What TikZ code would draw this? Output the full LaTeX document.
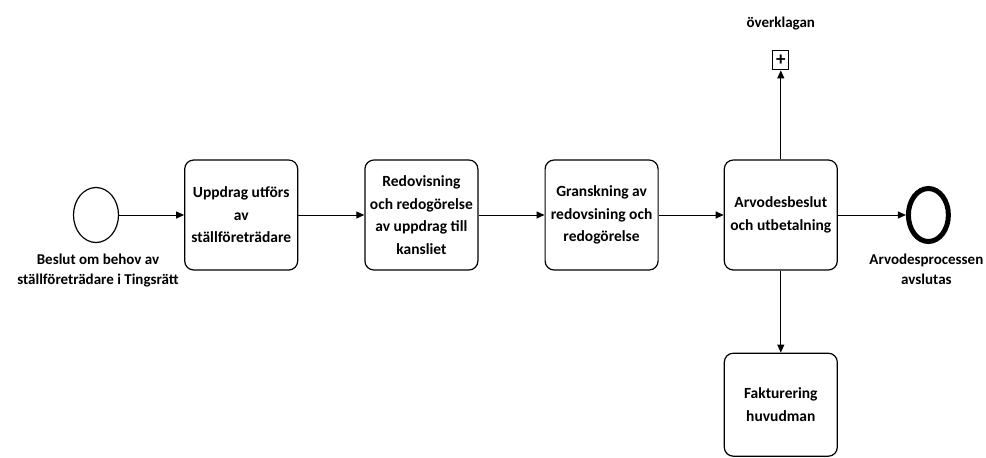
\documentclass[tikz,border=0pt]{standalone}
\usepackage{fontspec}
\setmainfont{Carlito}
\usetikzlibrary{arrows.meta, positioning, shapes.geometric}

\begin{document}
\begin{tikzpicture}[x=1pt, y=-1pt, font=\bfseries\fontsize{15.5}{22.5}\selectfont,
  task/.style={rectangle, rounded corners=9pt, draw, line width=1.2pt, align=center,
               minimum width=113pt, minimum height=110pt, inner sep=1pt},
  startev/.style={ellipse, draw, line width=1.2pt, minimum width=45pt, minimum height=55pt},
  endev/.style={ellipse, draw, line width=5pt, minimum width=40pt, minimum height=53pt},
  subproc/.style={rectangle, draw, line width=1.2pt, minimum width=16pt, minimum height=19pt,
                  inner sep=0pt},
  lbl/.style={align=center, font=\bfseries\fontsize{15}{20}\selectfont},
  fl/.style={-{Triangle[length=8pt, width=7pt]}, line width=1pt}]
\useasboundingbox (0,0) rectangle (986,458);
% main flow
\node[startev] (start) at (96,215) {};
\node[task, right=65pt of start] (uppdrag) {Uppdrag utförs\\av\\ställföreträdare};
\node[task, right=66pt of uppdrag] (redovisning) {Redovisning\\och redogörelse\\av uppdrag till\\kansliet};
\node[task, right=66pt of redovisning] (granskning) {Granskning av\\redovsining och\\redogörelse};
\node[task, right=65pt of granskning] (arvode) {Arvodesbeslut\\och utbetalning};
\node[endev, right=68pt of arvode] (slut) {};
% branches
\node[subproc, above=89pt of arvode] (overklagan) {\fontsize{19}{19}\selectfont+};
\node[task, below=82pt of arvode, minimum height=103pt] (faktura) {Fakturering\\huvudman};
% labels
\node[lbl, below=7pt of start, xshift=2pt] (startlbl) {Beslut om behov av\\ställföreträdare i Tingsrätt};
\node[lbl, below=6pt of slut, xshift=-2pt] (slutlbl) {Arvodesprocessen\\avslutas};
\node[lbl, above=17pt of overklagan] (overlbl) {överklagan};
% flows
\draw[fl] (start) -- (uppdrag);
\draw[fl] (uppdrag) -- (redovisning);
\draw[fl] (redovisning) -- (granskning);
\draw[fl] (granskning) -- (arvode);
\draw[fl] (arvode) -- (slut);
\draw[fl] (arvode) -- (overklagan);
\draw[fl] (arvode) -- (faktura);
\end{tikzpicture}
\end{document}
